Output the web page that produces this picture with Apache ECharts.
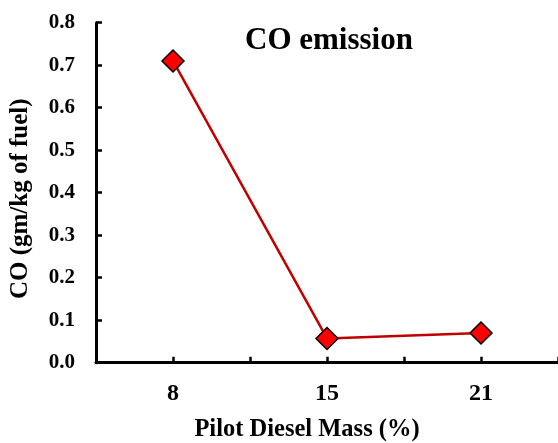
<!DOCTYPE html>
<html><head><meta charset="utf-8">
<script src="https://cdn.jsdelivr.net/npm/echarts@6/dist/echarts.min.js"></script>
<style>html,body{margin:0;padding:0;background:#fff}#c{width:558px;height:443px}</style>
</head><body><div id="c"></div>
<script>
const categories = ['8', '15', '21'];
const coValues = [0.71, 0.057, 0.07];
const yTicks = [0, 0.1, 0.2, 0.3, 0.4, 0.5, 0.6, 0.7, 0.8];

const font = '"Liberation Serif", "Times New Roman", serif';
const chart = echarts.init(document.getElementById('c'));
chart.setOption({
  animation: false,
  backgroundColor: '#fff',
  title: {
    text: 'CO emission', left: 240, top: 20,
    textStyle: { fontFamily: font, fontWeight: 'bold', fontSize: 31, color: '#000' }
  },
  grid: { left: 96, right: 0, top: 22.7, bottom: 80.3, containLabel: false, outerBoundsMode: 'none' },
  xAxis: [{
    type: 'category', data: categories, position: 'bottom',
    boundaryGap: true,
    name: 'Pilot Diesel Mass (%)', nameLocation: 'middle', nameGap: 54,
    nameTextStyle: { fontFamily: font, fontWeight: 'bold', fontSize: 24.5, color: '#000', padding: [0, 40, 0, 0] },
    axisLine: { lineStyle: { color: '#000', width: 3 } },
    axisTick: { show: true, inside: true, length: 6, lineStyle: { color: '#000', width: 2.5 }, alignWithLabel: false },
    axisLabel: { fontFamily: font, fontWeight: 'bold', fontSize: 24, color: '#000', margin: 19 },
    splitLine: { show: false }
  }, {
    type: 'category', data: categories, position: 'bottom', offset: 0,
    boundaryGap: true,
    axisLine: { show: false },
    axisTick: { show: true, inside: true, length: 6, alignWithLabel: true, lineStyle: { color: '#000', width: 2.5 } },
    axisLabel: { show: false },
    splitLine: { show: false }
  }],
  yAxis: {
    type: 'value', min: 0, max: 0.8, interval: 0.1,
    name: 'CO (gm/kg of fuel)', nameLocation: 'middle', nameGap: 63, nameRotate: 90,
    nameTextStyle: { fontFamily: font, fontWeight: 'bold', fontSize: 25, color: '#000', padding: [0, 12, 0, 0] },
    axisLine: { show: true, lineStyle: { color: '#000', width: 3 } },
    axisTick: { show: true, inside: true, length: 6, lineStyle: { color: '#000', width: 2.5 } },
    axisLabel: { fontFamily: font, fontWeight: 'bold', fontSize: 21, color: '#000', margin: 21,
      formatter: v => { const t = yTicks.find(x => Math.abs(x - v) < 1e-9); return (t !== undefined ? t : v).toFixed(1); } },
    splitLine: { show: false }
  },
  series: [{
    type: 'line', data: coValues, xAxisIndex: 0,
    symbol: 'diamond', symbolSize: 22,
    lineStyle: { color: '#C00000', width: 2.5 },
    itemStyle: { color: '#FF0000', borderColor: '#000', borderWidth: 1.5 }
  }]
});
</script></body></html>
